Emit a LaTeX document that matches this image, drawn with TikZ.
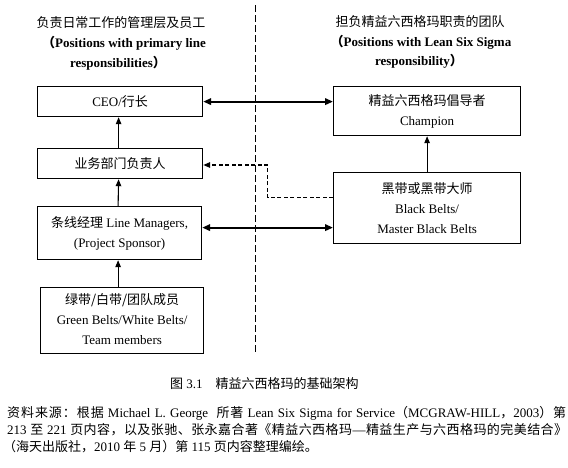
\documentclass[tikz,border=0pt]{standalone}
\usepackage{fontspec}
\setmainfont{Liberation Serif}
\newfontfamily\cjkf{Noto Sans CJK SC}
\newcommand\zh[1]{{\cjkf #1}}
\usetikzlibrary{arrows.meta,calc}
% stretchable glue between CJK characters (used for the justified source lines)
\newcount\cjkcnt
\cjkcnt="4E00
\loop \XeTeXcharclass\cjkcnt=10 \advance\cjkcnt by 1 \ifnum\cjkcnt<"A000 \repeat
\cjkcnt="3000
\loop \XeTeXcharclass\cjkcnt=10 \advance\cjkcnt by 1 \ifnum\cjkcnt<"3040 \repeat
\cjkcnt="FF00
\loop \XeTeXcharclass\cjkcnt=10 \advance\cjkcnt by 1 \ifnum\cjkcnt<"FFF0 \repeat
\XeTeXinterchartokenstate=1
\XeTeXinterchartoks 10 10 = {\hskip0pt plus 1.6pt\relax}
\begin{document}
\begin{tikzpicture}[x=1pt,y=-1pt,
  font=\fontsize{13}{20}\selectfont,
  box/.style={draw, line width=1.2pt, anchor=north west, inner sep=0pt, align=center},
  txt/.style={inner sep=0pt, anchor=base},
  txtw/.style={inner sep=0pt, anchor=base west},
  thinarr/.style={-{Triangle[length=7pt,width=5.5pt]}, line width=1.1pt},
  thickarr/.style={{Triangle[length=8pt,width=6.5pt]}-{Triangle[length=8pt,width=6.5pt]}, line width=2.1pt},
  dasharr/.style={-{Triangle[length=7pt,width=5.5pt]}, dash pattern=on 4pt off 2.5pt, line width=1.5pt},
  divider/.style={dash pattern=on 7pt off 3pt, line width=0.8pt}]
\useasboundingbox (0,0) rectangle (568,467);

% headers
\node[txt] (hl1) at (121,27.5) {\zh{负责日常工作的管理层及员工}};
\node[txt] (hl2) at (124,47.5) {\textbf{\zh{（}Positions with primary line}};
\node[txt] (hl3) at (118,67.5) {\textbf{responsibilities\zh{）}}};
\node[txt] (hr1) at (420,26.5) {\zh{担负精益六西格玛职责的团队}};
\node[txt] (hr2) at (421,46.5) {\textbf{\zh{（}Positions with Lean Six Sigma}};
\node[txt] (hr3) at (419,65.5) {\textbf{responsibility\zh{）}}};

% divider
\coordinate (dtop) at (255,5);
\coordinate (dbot) at (255,353);
\draw[divider] (dtop) -- (dbot);

% boxes
\node[box, minimum width=165pt, minimum height=30pt] (ceo) at (37,86) {CEO/\zh{行长}};
\node[box, minimum width=165pt, minimum height=30pt] (yw) at (37,148) {\zh{业务部门负责人}};
\node[box, minimum width=164pt, minimum height=53pt] (tx) at (37,206) {\zh{条线经理} Line Managers,\\(Project Sponsor)};
\node[box, minimum width=163pt, minimum height=66pt] (gr) at (40,287) {\raisebox{-3.7pt}{\begin{tabular}{@{}c@{}}\zh{绿带/白带/团队成员}\\Green Belts/White Belts/\\Team members\end{tabular}}};
\node[box, minimum width=187pt, minimum height=49pt] (ch) at (333,86) {\zh{精益六西格玛倡导者}\\Champion};
\node[box, minimum width=187pt, minimum height=71pt] (bb) at (333,172) {\zh{黑带或黑带大师}\\Black Belts/\\Master Black Belts};

% vertical arrows
\draw[thinarr] ([xshift=-1.5pt]yw.north) -- ([xshift=-1.5pt]ceo.south);
\draw[thinarr] ([xshift=-1.5pt]tx.north) -- ([xshift=-1.5pt]yw.south);
\draw[thinarr] ([xshift=-1.5pt]tx.south |- gr.north) -- ([xshift=-1.5pt]tx.south);
\draw[thinarr] (bb.north) -- (ch.south);

% thick double arrows
\draw[thickarr] (ceo.east) -- (ceo.east -| ch.west);
\coordinate (t2) at ([yshift=5.5pt]tx.east);
\draw[thickarr] (t2) -- (t2 -| bb.west);

% dashed connector
\coordinate (bend) at (267.5,165);
\draw[dasharr] ([yshift=10.5pt]bb.west) -| (bend) -- (bend -| yw.east);

% caption
\node[txtw] (cap) at (170,388.5) {\zh{图} 3.1\hspace{13pt}\zh{精益六西格玛的基础架构}};
\node[txtw] (s1) at (7,417) {\makebox[559pt][s]{\zh{资料来源：根据} Michael L. George \ \zh{所著} Lean Six Sigma for Service\zh{（}MCGRAW-HILL\zh{，}2003\zh{）第}}};
\node[txtw] (s2) at (7,434.5) {\makebox[560pt][s]{213 \zh{至} 221 \zh{页内容，以及张驰、张永嘉合著《精益六西格玛}\hskip0pt plus 1.6pt—\hskip0pt plus 1.6pt\zh{精益生产与六西格玛的完美结合》}}};
\node[txtw] (s3) at (3,451.5) {\zh{（海天出版社，}2010 \zh{年} 5 \zh{月）第} 115 \zh{页内容整理编绘。}};
\end{tikzpicture}
\end{document}
